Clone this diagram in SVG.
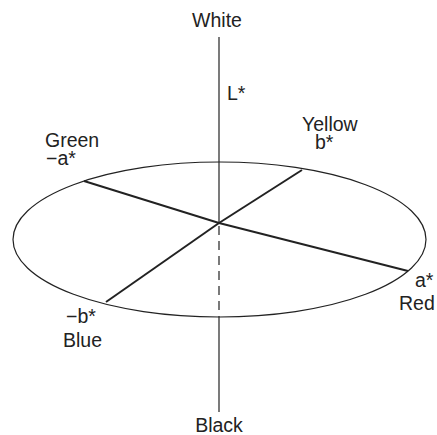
<svg xmlns="http://www.w3.org/2000/svg" width="437" height="435" viewBox="0 0 437 435">
<style>
text{font-family:"Liberation Sans",Arial,sans-serif;font-size:19.5px;fill:#222}
.thin{fill:none;stroke:#222;stroke-width:1.2}
.axis{fill:none;stroke:#222;stroke-width:2}
.dash{fill:none;stroke:#222;stroke-width:1.2;stroke-dasharray:9,6}
</style>
<rect width="437" height="435" fill="#fff"/>
<g id="connectors">
<ellipse class="thin" cx="219.5" cy="239.5" rx="206.5" ry="77.5"/>
<line class="thin" x1="219" y1="37" x2="219" y2="223"/>
<line class="dash" x1="219" y1="226" x2="219" y2="317"/>
<line class="thin" x1="219" y1="317" x2="219" y2="412"/>
<line class="axis" x1="84" y1="181" x2="219" y2="223"/>
<line class="axis" x1="219" y1="223" x2="408" y2="271"/>
<line class="axis" x1="302" y1="170" x2="219" y2="223"/>
<line class="axis" x1="219" y1="223" x2="106" y2="302"/>
</g>
<g id="white"><text x="217" y="27" text-anchor="middle">White</text></g>
<g id="lstar"><text x="227" y="100">L*</text></g>
<g id="green"><text x="45" y="147">Green<tspan x="46" dy="18">−a*</tspan></text></g>
<g id="yellow"><text x="302" y="131">Yellow<tspan x="315" dy="18">b*</tspan></text></g>
<g id="red"><text x="415" y="287">a*<tspan x="399" dy="23">Red</tspan></text></g>
<g id="blue"><text x="66" y="323">−b*<tspan x="63" dy="24">Blue</tspan></text></g>
<g id="black"><text x="219" y="432" text-anchor="middle">Black</text></g>
</svg>
